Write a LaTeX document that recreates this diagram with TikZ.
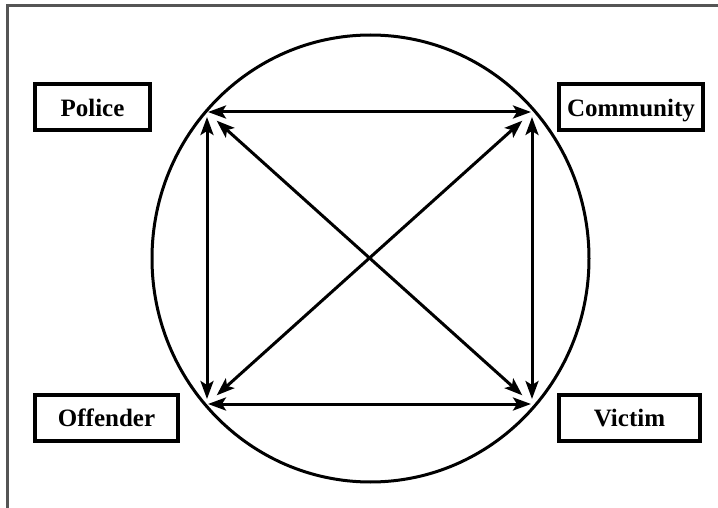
\documentclass[tikz,border=0pt]{standalone}
\usepackage{fontspec}
\setmainfont{Liberation Serif}
\usetikzlibrary{arrows.meta,positioning}
\definecolor{framegrey}{RGB}{85,85,85}

\tikzset{
  partybox/.style={draw, line width=4pt, minimum height=46pt, inner sep=0pt,
    text depth=0pt, font=\fontsize{25}{30}\selectfont\bfseries},
  link/.style={{Stealth[length=18pt,width=13pt,inset=4pt]}-{Stealth[length=18pt,width=13pt,inset=4pt]},
    line width=3pt}
}

\begin{document}
\begin{tikzpicture}[x=1pt,y=-1pt]
  \useasboundingbox (0,0) rectangle (718,508);
  % frame, top and left only
  \draw[framegrey, line width=3pt] (7,508) -- (7,6) -- (718,6);

  % circle
  \draw[line width=3pt] (370.5,258.5) ellipse (218.5 and 223.5);

  % the four parties
  \node[partybox, minimum width=115pt] (police) at (92.5,107.5) {Police};
  \node[partybox, minimum width=144pt] (community) at (631,107.5) {Community};
  \node[partybox, minimum width=143pt] (offender) at (106.5,418) {Offender};
  \node[partybox, minimum width=141pt] (victim) at (629.5,418) {Victim};

  % corners of the square
  \coordinate (cP) at (207,112);
  \coordinate (cC) at (532,112);
  \coordinate (cO) at (207,404);
  \coordinate (cV) at (532,404);

  \draw[link, shorten <=1pt, shorten >=1pt] (cP) -- (cC);
  \draw[link, shorten <=1pt, shorten >=1pt] (cO) -- (cV);
  \draw[link, shorten <=5pt, shorten >=5pt] (cP) -- (cO);
  \draw[link, shorten <=5pt, shorten >=5pt] (cC) -- (cV);
  \draw[link, shorten <=13pt, shorten >=13pt] (cP) -- (cV);
  \draw[link, shorten <=13pt, shorten >=13pt] (cC) -- (cO);
\end{tikzpicture}
\end{document}
